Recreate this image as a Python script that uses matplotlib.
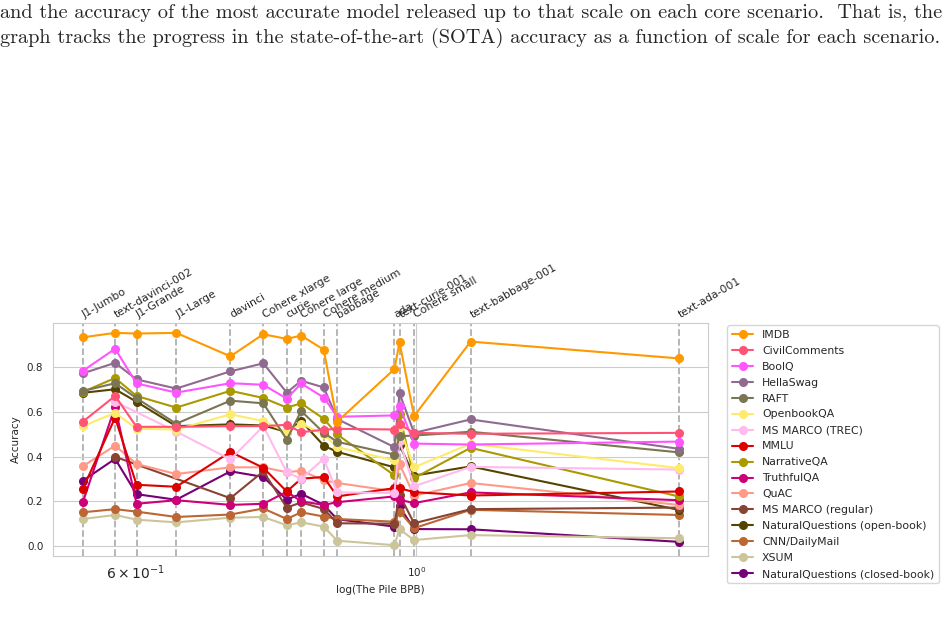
import numpy as np
import matplotlib
matplotlib.use("Agg")
import matplotlib.pyplot as plt
import matplotlib.transforms as mtransforms
import seaborn as sns

nan = np.nan

models = ["J1-Jumbo", "text-davinci-002", "J1-Grande", "J1-Large", "davinci",
          "Cohere xlarge", "curie", "Cohere large", "Cohere medium", "babbage",
          "ada", "text-curie-001", "Cohere small", "text-babbage-001", "text-ada-001"]
pile_bpb = [0.545, 0.578, 0.601, 0.646, 0.713, 0.757, 0.790, 0.811, 0.845, 0.866,
            0.961, 0.970, 0.996, 1.104, 1.612]

imdb = [0.933, 0.953, 0.950, 0.953, 0.848, 0.947, 0.926, 0.941, 0.878, 0.556, 0.791, 0.911, 0.581, 0.914, 0.839]
civil = [0.556, 0.671, 0.533, 0.533, 0.536, 0.536, 0.542, 0.509, 0.520, 0.524, 0.521, 0.544, 0.506, 0.502, 0.506]
boolq = [0.783, 0.882, 0.727, 0.686, 0.728, 0.721, 0.659, 0.727, 0.664, 0.578, 0.584, 0.626, 0.458, 0.454, 0.467]
hellaswag = [0.772, 0.819, 0.745, 0.704, 0.781, 0.817, 0.686, 0.739, 0.709, 0.568, 0.442, 0.683, 0.506, 0.566, 0.435]
raft = [0.693, 0.728, 0.661, 0.547, 0.650, 0.638, 0.476, 0.604, 0.506, 0.466, 0.409, 0.491, 0.494, 0.511, 0.419]
openbookqa = [0.536, 0.596, 0.524, 0.521, 0.589, 0.559, 0.509, 0.547, 0.499, 0.442, 0.383, 0.530, 0.352, 0.457, 0.349]
msmarco_trec = [nan, 0.645, nan, 0.512, 0.387, 0.536, 0.330, 0.301, 0.390, 0.240, 0.237, 0.470, 0.267, 0.354, 0.342]
mmlu = [0.256, 0.574, 0.274, 0.265, 0.421, 0.350, 0.244, 0.301, 0.309, 0.222, 0.259, 0.259, 0.241, 0.226, 0.244]
narrativeqa = [0.689, 0.751, 0.671, 0.619, 0.694, 0.662, 0.619, 0.638, 0.569, 0.499, 0.316, 0.589, 0.304, 0.439, 0.222]
truthfulqa = [0.196, 0.623, 0.189, 0.205, 0.184, 0.189, 0.243, 0.200, 0.184, 0.196, 0.222, 0.207, 0.192, 0.240, 0.205]
quac = [0.357, 0.449, 0.367, 0.322, 0.352, 0.352, 0.330, 0.337, 0.294, 0.282, 0.245, 0.367, 0.225, 0.282, 0.184]
msmarco_regular = [nan, 0.399, nan, nan, 0.214, 0.334, 0.172, 0.195, 0.166, 0.102, 0.100, 0.229, 0.102, 0.165, 0.172]
nq_open = [0.685, 0.701, 0.645, 0.536, 0.544, 0.539, 0.510, 0.559, 0.449, 0.421, 0.352, 0.450, 0.315, 0.356, 0.162]
cnn_dm = [0.151, 0.165, 0.154, 0.130, 0.141, 0.168, 0.121, 0.151, 0.132, 0.121, 0.109, 0.154, 0.080, 0.162, 0.139]
xsum = [0.121, 0.139, 0.118, 0.106, 0.127, 0.130, 0.093, 0.106, 0.087, 0.024, 0.004, 0.075, 0.027, 0.049, 0.035]
nq_closed = [0.292, 0.390, 0.232, 0.207, 0.334, 0.309, 0.207, 0.234, 0.184, 0.120, 0.087, 0.177, 0.076, 0.075, 0.019]

scenarios = ["IMDB", "CivilComments", "BoolQ", "HellaSwag", "RAFT", "OpenbookQA",
             "MS MARCO (TREC)", "MMLU", "NarrativeQA", "TruthfulQA", "QuAC",
             "MS MARCO (regular)", "NaturalQuestions (open-book)", "CNN/DailyMail",
             "XSUM", "NaturalQuestions (closed-book)"]
series = [imdb, civil, boolq, hellaswag, raft, openbookqa, msmarco_trec, mmlu,
          narrativeqa, truthfulqa, quac, msmarco_regular, nq_open, cnn_dm, xsum, nq_closed]
colors = ["#FF9900", "#FF5275", "#FF55FF", "#8F6B8F", "#7A7552", "#FFEB6B",
          "#FFBBEE", "#DD0000", "#AA9900", "#CC0077", "#FF9988", "#884433",
          "#554400", "#BB6633", "#CCC59A", "#770077"]

sns.set_style("whitegrid")
plt.rcParams["font.family"] = ["DejaVu Sans"]

fig = plt.figure(figsize=(9.47, 6.2), dpi=100)
ax = fig.add_axes([0.056, 0.103, 0.692, 0.376])

x = np.array(pile_bpb)
handles = {}
# drawn in reverse so the first scenarios sit on top
for name, vals, c in reversed(list(zip(scenarios, series, colors))):
    y = np.array(vals, dtype=float)
    ok = ~np.isnan(y)
    h, = ax.plot(x[ok], y[ok], "-o", color=c, lw=1.5, ms=5.5, label=name)
    handles[name] = h

ax.set_xscale("log")
ax.set_ylim(-0.045, 0.997)
for xv in pile_bpb:
    ax.axvline(xv, color="#b0b0b0", ls="--", lw=1.3, zorder=0.5)

trans = mtransforms.blended_transform_factory(ax.transData, ax.transAxes)
trans = trans + mtransforms.ScaledTranslation(3 / 100, 0, fig.dpi_scale_trans)
for name, xv in zip(models, pile_bpb):
    ax.text(xv, 1.012, name, transform=trans, rotation=30, rotation_mode="anchor",
            ha="left", va="bottom", fontsize=7.8, color="#262626")

ax.tick_params(labelsize=7.5)
ax.tick_params(axis="x", pad=3)
ax.set_xlabel("log(The Pile BPB)", fontsize=7.5, labelpad=2)
ax.set_ylabel("Accuracy", fontsize=7.5)
for s in ax.spines.values():
    s.set_color("#cccccc")

ax.legend([handles[n] for n in scenarios], scenarios, loc="upper left",
          bbox_to_anchor=(1.029, 0.99), borderaxespad=0, fontsize=7.8,
          frameon=True, labelspacing=0.55)

fig.text(0.0, 0.979, "and the accuracy of the most accurate model released up to that scale on each core scenario.  That is, the",
         family="cmr10", fontsize=14.6, va="center", ha="left")
fig.text(0.0, 0.939, "graph tracks the progress in the state-of-the-art (SOTA) accuracy as a function of scale for each scenario.",
         family="cmr10", fontsize=14.6, va="center", ha="left")

fig.savefig("out.png", dpi=100)
